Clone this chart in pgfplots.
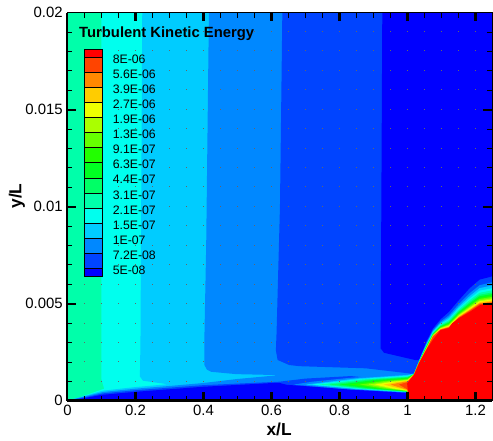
\documentclass[border=0pt]{standalone}
\usepackage{fontspec}
\setmainfont{Liberation Sans}
\usepackage{pgfplots}
\pgfplotsset{compat=1.18}
\definecolor{b1}{RGB}{0,0,255}
\definecolor{b2}{RGB}{0,68,255}
\definecolor{b3}{RGB}{0,136,255}
\definecolor{b4}{RGB}{0,204,255}
\definecolor{b5}{RGB}{0,255,238}
\definecolor{b6}{RGB}{0,255,170}
\definecolor{b7}{RGB}{0,255,102}
\definecolor{b8}{RGB}{0,255,34}
\definecolor{b9}{RGB}{34,255,0}
\definecolor{b10}{RGB}{102,255,0}
\definecolor{b11}{RGB}{170,255,0}
\definecolor{b12}{RGB}{238,255,0}
\definecolor{b13}{RGB}{255,204,0}
\definecolor{b14}{RGB}{255,136,0}
\definecolor{b15}{RGB}{255,68,0}
\definecolor{b16}{RGB}{255,0,0}
\pgfplotsset{fillc/.style={fill=#1,draw=none,mark=none,forget plot},
 sw/.style={fill=#1,draw=black,line width=0.3pt,mark=none,forget plot},
 common/.style={scale only axis,width=318.75pt,height=291.15pt,xmin=0,xmax=1.25,ymin=0,ymax=0.02,at={(50.6pt,30.2pt)},anchor=south west}}
\tikzset{legtxt/.style={anchor=west,inner sep=0pt,font=\fontsize{9.2}{11}\selectfont}}
\begin{document}
\begin{tikzpicture}
\path[use as bounding box] (0,0) rectangle (369.75pt,330.75pt);
\begin{axis}[common,
 xtick={0,0.2,0.4,0.6,0.8,1,1.2},ytick={0,0.005,0.01,0.015,0.02},
 scaled y ticks=false,
 yticklabels={0,0.005,0.01,0.015,0.02},
 xticklabels={0,0.2,0.4,0.6,0.8,1,1.2},
 tick label style={font=\fontsize{11.2}{13}\selectfont},
 major tick length=0pt,
 axis line style={draw=none},
 xlabel={\bfseries x/L},ylabel={\bfseries y/L},
 label style={font=\fontsize{13}{15}\selectfont},
 xlabel style={at={(axis description cs:0.498,-0.073)},anchor=center},
 ylabel style={at={(axis description cs:-0.119,0.5275)},anchor=center},
]
% background and far field bands
\addplot[fillc=b6] coordinates {(0,0)(1.25,0)(1.25,0.02)(0,0.02)} --cycle;
\addplot[fillc=b5] coordinates {(0.1,0.02)(0.1,0.0011)(0.108,0.00062)(0.04,0.0002)(0,0)(1.25,0)(1.25,0.02)} --cycle;
\addplot[fillc=b4] coordinates {(0.22,0.02)(0.2147,0.003)(0.213,0.00125)(0.222,0.00103)(0.295,0.00085)(0.198,0.0007)(0.105,0.00052)(0.03,0.00015)(0,0)(1.25,0)(1.25,0.02)} --cycle;
\addplot[fillc=b3] coordinates {(0.416,0.02)(0.408,0.008)(0.403,0.0035)(0.403,0.00184)(0.41,0.0016)(0.423,0.00149)(0.496,0.00137)(0.623,0.00132)(0.5,0.00112)(0.398,0.00091)(0.3,0.00076)(0.2,0.00062)(0.105,0.00045)(0.03,0.00013)(0,0)(1.25,0)(1.25,0.02)} --cycle;
\addplot[fillc=b2] coordinates {(0.632,0.02)(0.625,0.01)(0.615,0.0035)(0.613,0.0026)(0.618,0.0021)(0.652,0.00184)(0.682,0.00178)(0.877,0.00167)(1.004,0.00141)(1.25,0)(1.25,0.02)} --cycle;
\addplot[fillc=b2] coordinates {(0.833,0.00127)(0.7,0.00114)(0.623,0.00098)(0.398,0.0008)(0.2,0.00054)(0.105,0.00038)(0.03,0.0001)(0,0)(1,0)(1,0.001)} --cycle;
\addplot[fillc=b1] coordinates {(0.926,0.02)(0.921,0.0027)(0.931,0.00247)(1.024,0.00209)(1.034,0.0021)(1.056,0.00307)(1.075,0.00372)(1.097,0.00419)(1.122,0.00458)(1.151,0.00518)(1.183,0.0058)(1.212,0.00624)(1.25,0.00641)(1.25,0.02)} --cycle;
\addplot[fillc=b1] coordinates {(0,0)(0.03,0.00007)(0.1,0.0003)(0.2,0.00046)(0.4,0.00072)(0.6,0.00091)(0.623,0.00092)(0.645,0.00082)(0.8,0.00062)(1,0.0004)(1,0)} --cycle;
% nested contours of the hot region
\addplot[fillc=b3] coordinates {(1.25,0.00611)(1.212,0.00595)(1.183,0.00554)(1.151,0.00498)(1.122,0.0044)(1.097,0.00407)(1.075,0.00363)(1.056,0.00298)(1.034,0.00206)(1.019,0.0014)(1,0.00137)(0.83,0.00118)(0.72,0.00098)(0.665,0.00083)(0.83,0.00058)(1,0.00042)(0.999,0)(1.25,0)} --cycle;
\addplot[fillc=b4] coordinates {(1.25,0.00594)(1.212,0.0058)(1.183,0.00539)(1.151,0.00486)(1.122,0.0043)(1.097,0.004)(1.075,0.00358)(1.056,0.00292)(1.034,0.00204)(1.019,0.00139)(1,0.00133)(0.85,0.00115)(0.7,0.00083)(0.85,0.0006)(1,0.00044)(1,0)(1.25,0)} --cycle;
\addplot[fillc=b5] coordinates {(1.25,0.0058)(1.212,0.00567)(1.183,0.00527)(1.151,0.00477)(1.122,0.00421)(1.097,0.00395)(1.075,0.00354)(1.056,0.00288)(1.034,0.00203)(1.019,0.00138)(1,0.00129)(0.86,0.00112)(0.72,0.00083)(0.86,0.0006)(1,0.00045)(1.001,0)(1.25,0)} --cycle;
\addplot[fillc=b6] coordinates {(1.25,0.00569)(1.212,0.00556)(1.183,0.00518)(1.151,0.0047)(1.122,0.00415)(1.097,0.0039)(1.075,0.0035)(1.056,0.00285)(1.034,0.00201)(1.019,0.00137)(1,0.00125)(0.87,0.0011)(0.74,0.00083)(0.87,0.00061)(1,0.00046)(1.002,0)(1.25,0)} --cycle;
\addplot[fillc=b7] coordinates {(1.25,0.00558)(1.212,0.00546)(1.183,0.00508)(1.151,0.00462)(1.122,0.00408)(1.097,0.00386)(1.075,0.00347)(1.056,0.00281)(1.034,0.002)(1.019,0.00137)(1,0.00122)(0.885,0.00108)(0.77,0.00083)(0.885,0.00061)(1,0.00047)(1.003,0)(1.25,0)} --cycle;
\addplot[fillc=b8] coordinates {(1.25,0.0055)(1.212,0.00538)(1.183,0.00501)(1.151,0.00457)(1.122,0.00403)(1.097,0.00383)(1.075,0.00344)(1.056,0.00279)(1.034,0.00199)(1.019,0.00136)(1,0.00118)(0.9,0.00106)(0.8,0.00083)(0.9,0.00062)(1,0.00048)(1.004,0)(1.25,0)} --cycle;
\addplot[fillc=b9] coordinates {(1.25,0.00542)(1.212,0.0053)(1.183,0.00494)(1.151,0.00451)(1.122,0.00398)(1.097,0.00379)(1.075,0.00342)(1.056,0.00276)(1.034,0.00198)(1.019,0.00136)(1,0.00114)(0.915,0.00103)(0.83,0.00083)(0.915,0.00063)(1,0.00049)(1.005,0)(1.25,0)} --cycle;
\addplot[fillc=b10] coordinates {(1.25,0.00535)(1.212,0.00524)(1.183,0.00488)(1.151,0.00446)(1.122,0.00394)(1.097,0.00377)(1.075,0.0034)(1.056,0.00274)(1.034,0.00197)(1.019,0.00135)(1,0.00111)(0.93,0.00101)(0.86,0.00083)(0.93,0.00063)(1,0.0005)(1.0055,0)(1.25,0)} --cycle;
\addplot[fillc=b11] coordinates {(1.25,0.00528)(1.212,0.00517)(1.183,0.00482)(1.151,0.00442)(1.122,0.0039)(1.097,0.00374)(1.075,0.00338)(1.056,0.00272)(1.034,0.00196)(1.019,0.00135)(1,0.00108)(0.945,0.00099)(0.885,0.00083)(0.945,0.00064)(1,0.00051)(1.006,0)(1.25,0)} --cycle;
\addplot[fillc=b12] coordinates {(1.25,0.00522)(1.212,0.00512)(1.183,0.00477)(1.151,0.00438)(1.122,0.00387)(1.097,0.00372)(1.075,0.00336)(1.056,0.0027)(1.034,0.00195)(1.019,0.00134)(1,0.00105)(0.955,0.00097)(0.905,0.00083)(0.955,0.00064)(1,0.00052)(1.0065,0)(1.25,0)} --cycle;
\addplot[fillc=b13] coordinates {(1.25,0.00517)(1.212,0.00507)(1.183,0.00472)(1.151,0.00434)(1.122,0.00383)(1.097,0.0037)(1.075,0.00334)(1.056,0.00268)(1.034,0.00195)(1.019,0.00134)(1,0.00103)(0.97,0.00096)(0.93,0.00083)(0.97,0.00066)(1,0.00054)(1.0065,0)(1.25,0)} --cycle;
\addplot[fillc=b14] coordinates {(1.25,0.00511)(1.212,0.00502)(1.183,0.00467)(1.151,0.00431)(1.122,0.0038)(1.097,0.00367)(1.075,0.00333)(1.056,0.00267)(1.034,0.00194)(1.019,0.00134)(1,0.001)(0.98,0.00094)(0.95,0.00083)(0.98,0.00067)(1,0.00056)(1.007,0)(1.25,0)} --cycle;
\addplot[fillc=b15] coordinates {(1.25,0.00507)(1.212,0.00498)(1.183,0.00464)(1.151,0.00428)(1.122,0.00378)(1.097,0.00366)(1.075,0.00331)(1.056,0.00265)(1.034,0.00194)(1.019,0.00133)(1,0.00096)(0.99,0.00091)(0.975,0.00083)(0.99,0.00068)(1,0.00058)(1.007,0)(1.25,0)} --cycle;
\addplot[fillc=b16] coordinates {(1.25,0.00503)(1.2145,0.00494)(1.185,0.0046)(1.151,0.00425)(1.1315,0.00399)(1.1217,0.00375)(1.0974,0.00364)(1.078,0.00322)(1.058,0.0027)(1.0337,0.00193)(1.019,0.00133)(0.999,0.00089)(1.002,0.00038)(1.007,0)(1.25,0)} --cycle;
\end{axis}
% dotted mesh marks
\begin{axis}[common,xtick={0,0.2,0.4,0.6,0.8,1,1.2},minor x tick num=3,ytick=\empty,
 xticklabels={},major tick length=0pt,minor tick length=0pt,axis line style={draw=none},
 xmajorgrids,xminorgrids,
 grid style={black!60,line width=0.3pt,dash pattern=on 0.3pt off 14.28pt},
 minor grid style={black!60,line width=0.3pt,dash pattern=on 0.3pt off 14.28pt}]
\end{axis}
\begin{axis}[common,hide axis,clip=false]
\addplot[sw=b16] coordinates {(0.0493,0.01811)(0.1033,0.01811)(0.1033,0.017714)(0.0493,0.017714)} --cycle;
\addplot[sw=b15] coordinates {(0.0493,0.017714)(0.1033,0.017714)(0.1033,0.016936)(0.0493,0.016936)} --cycle;
\addplot[sw=b14] coordinates {(0.0493,0.016936)(0.1033,0.016936)(0.1033,0.016158)(0.0493,0.016158)} --cycle;
\addplot[sw=b13] coordinates {(0.0493,0.016158)(0.1033,0.016158)(0.1033,0.01538)(0.0493,0.01538)} --cycle;
\addplot[sw=b12] coordinates {(0.0493,0.01538)(0.1033,0.01538)(0.1033,0.014602)(0.0493,0.014602)} --cycle;
\addplot[sw=b11] coordinates {(0.0493,0.014602)(0.1033,0.014602)(0.1033,0.013824)(0.0493,0.013824)} --cycle;
\addplot[sw=b10] coordinates {(0.0493,0.013824)(0.1033,0.013824)(0.1033,0.013046)(0.0493,0.013046)} --cycle;
\addplot[sw=b9] coordinates {(0.0493,0.013046)(0.1033,0.013046)(0.1033,0.012268)(0.0493,0.012268)} --cycle;
\addplot[sw=b8] coordinates {(0.0493,0.012268)(0.1033,0.012268)(0.1033,0.01149)(0.0493,0.01149)} --cycle;
\addplot[sw=b7] coordinates {(0.0493,0.01149)(0.1033,0.01149)(0.1033,0.010712)(0.0493,0.010712)} --cycle;
\addplot[sw=b6] coordinates {(0.0493,0.010712)(0.1033,0.010712)(0.1033,0.009934)(0.0493,0.009934)} --cycle;
\addplot[sw=b5] coordinates {(0.0493,0.009934)(0.1033,0.009934)(0.1033,0.009156)(0.0493,0.009156)} --cycle;
\addplot[sw=b4] coordinates {(0.0493,0.009156)(0.1033,0.009156)(0.1033,0.008378)(0.0493,0.008378)} --cycle;
\addplot[sw=b3] coordinates {(0.0493,0.008378)(0.1033,0.008378)(0.1033,0.0076)(0.0493,0.0076)} --cycle;
\addplot[sw=b2] coordinates {(0.0493,0.0076)(0.1033,0.0076)(0.1033,0.006822)(0.0493,0.006822)} --cycle;
\addplot[sw=b1] coordinates {(0.0493,0.006822)(0.1033,0.006822)(0.1033,0.00643)(0.0493,0.00643)} --cycle;
\node[anchor=west,inner sep=0pt,font=\fontsize{11.1}{13}\selectfont\bfseries] at (axis cs:0.0337,0.01891) {Turbulent Kinetic Energy};
\node[legtxt] at (axis cs:0.1325,0.017612) {8E-06};
\node[legtxt] at (axis cs:0.1325,0.016834) {5.6E-06};
\node[legtxt] at (axis cs:0.1325,0.016056) {3.9E-06};
\node[legtxt] at (axis cs:0.1325,0.015278) {2.7E-06};
\node[legtxt] at (axis cs:0.1325,0.0145) {1.9E-06};
\node[legtxt] at (axis cs:0.1325,0.013722) {1.3E-06};
\node[legtxt] at (axis cs:0.1325,0.012944) {9.1E-07};
\node[legtxt] at (axis cs:0.1325,0.012166) {6.3E-07};
\node[legtxt] at (axis cs:0.1325,0.011388) {4.4E-07};
\node[legtxt] at (axis cs:0.1325,0.01061) {3.1E-07};
\node[legtxt] at (axis cs:0.1325,0.009832) {2.1E-07};
\node[legtxt] at (axis cs:0.1325,0.009054) {1.5E-07};
\node[legtxt] at (axis cs:0.1325,0.008276) {1E-07};
\node[legtxt] at (axis cs:0.1325,0.007498) {7.2E-08};
\node[legtxt] at (axis cs:0.1325,0.00672) {5E-08};
\end{axis}
% frame and ticks
\begin{axis}[common,
 xtick=\empty,ytick=\empty,
 axis line style={line width=0.8pt},
 unbounded coords=jump,clip=false,
]
\addplot[black,line width=1.6pt,mark=none,forget plot] coordinates {(0.2,0)(0.2,0.00046)(0.2,nan)(0.4,0)(0.4,0.00046)(0.4,nan)(0.6,0)(0.6,0.00046)(0.6,nan)(0.8,0)(0.8,0.00046)(0.8,nan)(1,0)(1,0.00046)(1,nan)(1.2,0)(1.2,0.00046)(1.2,nan)(0.2,0.02)(0.2,0.01954)(0.2,nan)(0.4,0.02)(0.4,0.01954)(0.4,nan)(0.6,0.02)(0.6,0.01954)(0.6,nan)(0.8,0.02)(0.8,0.01954)(0.8,nan)(1,0.02)(1,0.01954)(1,nan)(1.2,0.02)(1.2,0.01954)(1.2,nan)(0,0.005)(0.0264,0.005)(0,nan)(0,0.01)(0.0264,0.01)(0,nan)(0,0.015)(0.0264,0.015)(0,nan)(1.25,0.005)(1.2236,0.005)(0,nan)(1.25,0.01)(1.2236,0.01)(0,nan)(1.25,0.015)(1.2236,0.015)};
\addplot[black,line width=0.6pt,mark=none,forget plot] coordinates {(0.05,0)(0.05,0.00026)(0,nan)(0.1,0)(0.1,0.00026)(0,nan)(0.15,0)(0.15,0.00026)(0,nan)(0.25,0)(0.25,0.00026)(0,nan)(0.3,0)(0.3,0.00026)(0,nan)(0.35,0)(0.35,0.00026)(0,nan)(0.45,0)(0.45,0.00026)(0,nan)(0.5,0)(0.5,0.00026)(0,nan)(0.55,0)(0.55,0.00026)(0,nan)(0.65,0)(0.65,0.00026)(0,nan)(0.7,0)(0.7,0.00026)(0,nan)(0.75,0)(0.75,0.00026)(0,nan)(0.85,0)(0.85,0.00026)(0,nan)(0.9,0)(0.9,0.00026)(0,nan)(0.95,0)(0.95,0.00026)(0,nan)(1.05,0)(1.05,0.00026)(0,nan)(1.1,0)(1.1,0.00026)(0,nan)(1.15,0)(1.15,0.00026)(0,nan)(0.05,0.02)(0.05,0.01974)(0,nan)(0.1,0.02)(0.1,0.01974)(0,nan)(0.15,0.02)(0.15,0.01974)(0,nan)(0.25,0.02)(0.25,0.01974)(0,nan)(0.3,0.02)(0.3,0.01974)(0,nan)(0.35,0.02)(0.35,0.01974)(0,nan)(0.45,0.02)(0.45,0.01974)(0,nan)(0.5,0.02)(0.5,0.01974)(0,nan)(0.55,0.02)(0.55,0.01974)(0,nan)(0.65,0.02)(0.65,0.01974)(0,nan)(0.7,0.02)(0.7,0.01974)(0,nan)(0.75,0.02)(0.75,0.01974)(0,nan)(0.85,0.02)(0.85,0.01974)(0,nan)(0.9,0.02)(0.9,0.01974)(0,nan)(0.95,0.02)(0.95,0.01974)(0,nan)(1.05,0.02)(1.05,0.01974)(0,nan)(1.1,0.02)(1.1,0.01974)(0,nan)(1.15,0.02)(1.15,0.01974)(0,nan)(0,0.001)(0.0147,0.001)(0,nan)(0,0.002)(0.0147,0.002)(0,nan)(0,0.003)(0.0147,0.003)(0,nan)(0,0.004)(0.0147,0.004)(0,nan)(0,0.006)(0.0147,0.006)(0,nan)(0,0.007)(0.0147,0.007)(0,nan)(0,0.008)(0.0147,0.008)(0,nan)(0,0.009)(0.0147,0.009)(0,nan)(0,0.011)(0.0147,0.011)(0,nan)(0,0.012)(0.0147,0.012)(0,nan)(0,0.013)(0.0147,0.013)(0,nan)(0,0.014)(0.0147,0.014)(0,nan)(0,0.016)(0.0147,0.016)(0,nan)(0,0.017)(0.0147,0.017)(0,nan)(0,0.018)(0.0147,0.018)(0,nan)(0,0.019)(0.0147,0.019)(0,nan)(1.25,0.001)(1.2353,0.001)(0,nan)(1.25,0.002)(1.2353,0.002)(0,nan)(1.25,0.003)(1.2353,0.003)(0,nan)(1.25,0.004)(1.2353,0.004)(0,nan)(1.25,0.006)(1.2353,0.006)(0,nan)(1.25,0.007)(1.2353,0.007)(0,nan)(1.25,0.008)(1.2353,0.008)(0,nan)(1.25,0.009)(1.2353,0.009)(0,nan)(1.25,0.011)(1.2353,0.011)(0,nan)(1.25,0.012)(1.2353,0.012)(0,nan)(1.25,0.013)(1.2353,0.013)(0,nan)(1.25,0.014)(1.2353,0.014)(0,nan)(1.25,0.016)(1.2353,0.016)(0,nan)(1.25,0.017)(1.2353,0.017)(0,nan)(1.25,0.018)(1.2353,0.018)(0,nan)(1.25,0.019)(1.2353,0.019)};
\addplot[black,line width=2.2pt,mark=none,forget plot] coordinates {(0,0)(1.25,0)};
\addplot[black,line width=1.5pt,mark=none,forget plot] coordinates {(0,0)(0,0.02)};
\end{axis}
\end{tikzpicture}
\end{document}
